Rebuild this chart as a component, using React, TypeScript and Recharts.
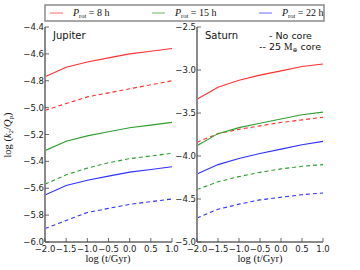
import { LineChart, Line, XAxis, YAxis } from "recharts";

const years = [-2, -1.5, -1, -0.5, 0, 0.5, 1];
const xTicks = [-2, -1.5, -1, -0.5, 0, 0.5, 1];

// Jupiter, log(k2/Qp)
const jupRed = [-4.77, -4.7, -4.66, -4.63, -4.6, -4.58, -4.56];
const jupRedCore = [-5.02, -4.97, -4.92, -4.89, -4.86, -4.83, -4.8];
const jupGreen = [-5.32, -5.25, -5.21, -5.18, -5.15, -5.13, -5.11];
const jupGreenCore = [-5.57, -5.5, -5.45, -5.41, -5.38, -5.36, -5.34];
const jupBlue = [-5.65, -5.58, -5.54, -5.51, -5.48, -5.46, -5.44];
const jupBlueCore = [-5.9, -5.84, -5.78, -5.75, -5.72, -5.7, -5.68];
const jupTicks = [-4.4, -4.6, -4.8, -5.0, -5.2, -5.4, -5.6, -5.8, -6.0];

// Saturn
const satRed = [-3.34, -3.2, -3.12, -3.06, -3.01, -2.96, -2.93];
const satRedCore = [-3.84, -3.74, -3.69, -3.65, -3.61, -3.58, -3.55];
const satGreen = [-3.88, -3.74, -3.67, -3.62, -3.57, -3.52, -3.49];
const satGreenCore = [-4.39, -4.3, -4.24, -4.19, -4.15, -4.12, -4.1];
const satBlue = [-4.21, -4.1, -4.03, -3.97, -3.92, -3.87, -3.83];
const satBlueCore = [-4.72, -4.62, -4.56, -4.51, -4.48, -4.45, -4.43];
const satTicks = [-2.5, -3.0, -3.5, -4.0, -4.5, -5.0];

const RED = "#ff3030";
const GREEN = "#2e9e2e";
const BLUE = "#3030ff";
const FRAME = "#8a8a8a";

const TOP = 27;
const BOTTOM = 242;
const tickFont = { fontFamily: "DejaVu Sans", fontSize: 8.5, fill: "#222" };

const fmt = (v: number, d: number) => {
  const s = Math.abs(v).toFixed(d);
  return v < 0 ? "\u2212" + s : s;
};

function makeRows(a: number[], b: number[], c: number[], d: number[], e: number[], f: number[]) {
  return years.map((t, i) => ({ t, r: a[i], rc: b[i], g: c[i], gc: d[i], b: e[i], bc: f[i] }));
}

const jupData = makeRows(jupRed, jupRedCore, jupGreen, jupGreenCore, jupBlue, jupBlueCore);
const satData = makeRows(satRed, satRedCore, satGreen, satGreenCore, satBlue, satBlueCore);

interface PanelProps {
  data: any[];
  domain: [number, number];
  yTicks: number[];
  plotLeft: number;
  plotRight: number;
  left: number;
  width: number;
  name: string;
}

function Panel({ data, domain, yTicks, plotLeft, plotRight, left, width, name }: PanelProps) {
  const pl = plotLeft - left;
  const pr = plotRight - left;
  const bottomTick = (p: any) => (
    <g>
      <line x1={p.x} x2={p.x} y1={BOTTOM} y2={BOTTOM - 4} stroke="#444" strokeWidth={0.8} />
      <text x={p.x} y={BOTTOM + 10} textAnchor="middle" {...tickFont}>
        {fmt(p.payload.value, 1)}
      </text>
    </g>
  );
  const topTick = (p: any) => (
    <line x1={p.x} x2={p.x} y1={TOP} y2={TOP + 4} stroke="#444" strokeWidth={0.8} />
  );
  const leftTick = (p: any) => (
    <g>
      <line x1={pl} x2={pl + 4} y1={p.y} y2={p.y} stroke="#444" strokeWidth={0.8} />
      <text x={pl - 1} y={p.y + 3} textAnchor="end" {...tickFont}>
        {fmt(p.payload.value, 1)}
      </text>
    </g>
  );
  const rightTick = (p: any) => (
    <line x1={pr} x2={pr - 4} y1={p.y} y2={p.y} stroke="#444" strokeWidth={0.8} />
  );
  const axisLine = { stroke: FRAME, strokeWidth: 2 };
  return (
    <div style={{ position: "absolute", left, top: 0 }}>
      <LineChart
        width={width}
        height={270}
        data={data}
        margin={{ top: TOP, right: width - pr, bottom: 0, left: 0 }}
      >
        <XAxis
          dataKey="t"
          type="number"
          domain={[-2, 1]}
          ticks={xTicks}
          height={270 - BOTTOM}
          axisLine={axisLine}
          tickLine={false}
          tick={bottomTick}
          interval={0}
        />
        <XAxis
          xAxisId="top"
          dataKey="t"
          type="number"
          orientation="top"
          domain={[-2, 1]}
          ticks={xTicks}
          height={0}
          axisLine={axisLine}
          tickLine={false}
          tick={topTick}
          interval={0}
        />
        <YAxis
          domain={domain}
          ticks={yTicks}
          width={pl}
          axisLine={axisLine}
          tickLine={false}
          tick={leftTick}
          interval={0}
        />
        <YAxis
          yAxisId="r"
          orientation="right"
          domain={domain}
          ticks={yTicks}
          width={0}
          axisLine={axisLine}
          tickLine={false}
          tick={rightTick}
          interval={0}
        />
        <Line dataKey="r" stroke={RED} strokeWidth={1.1} dot={false} isAnimationActive={false} />
        <Line dataKey="rc" stroke={RED} strokeWidth={1.1} strokeDasharray="4 3" dot={false} isAnimationActive={false} />
        <Line dataKey="g" stroke={GREEN} strokeWidth={1.1} dot={false} isAnimationActive={false} />
        <Line dataKey="gc" stroke={GREEN} strokeWidth={1.1} strokeDasharray="4 3" dot={false} isAnimationActive={false} />
        <Line dataKey="b" stroke={BLUE} strokeWidth={1.1} dot={false} isAnimationActive={false} />
        <Line dataKey="bc" stroke={BLUE} strokeWidth={1.1} strokeDasharray="4 3" dot={false} isAnimationActive={false} />
      </LineChart>
      <div
        style={{
          position: "absolute",
          left: pl + 8,
          top: 30,
          fontFamily: "DejaVu Sans",
          fontSize: 10,
          color: "#111",
        }}
      >
        {name}
      </div>
    </div>
  );
}

const serif = { fontFamily: "Liberation Serif", fill: "#111" };

function LegendItem({ x, color, label }: { x: number; color: string; label: string }) {
  return (
    <g>
      <line x1={x} x2={x + 13} y1={13} y2={13} stroke={color} strokeOpacity={0.6} strokeWidth={1.2} />
      <text x={x + 23} y={16} fontSize={10} {...serif}>
        <tspan fontStyle="italic">P</tspan>
        <tspan fontSize={6.5} dy={2}>rot</tspan>
        <tspan dy={-2}>{" = " + label + " h"}</tspan>
      </text>
    </g>
  );
}

export default function App() {
  return (
    <div style={{ position: "absolute", left: 0, top: 0, width: 360, height: 270, background: "#fff" }}>
      <Panel
        data={jupData}
        domain={[-6, -4.4]}
        yTicks={jupTicks}
        plotLeft={45}
        plotRight={172}
        left={0}
        width={180}
        name="Jupiter"
      />
      <Panel
        data={satData}
        domain={[-5, -2.5]}
        yTicks={satTicks}
        plotLeft={197}
        plotRight={323}
        left={172}
        width={160}
        name="Saturn"
      />
      <svg width={360} height={270} style={{ position: "absolute", left: 0, top: 0, pointerEvents: "none" }}>
        <rect x={45} y={5} width={279} height={16} fill="#fff" stroke={FRAME} strokeWidth={1.5} />
        <LegendItem x={50} color={RED} label="8" />
        <LegendItem x={152} color={GREEN} label="15" />
        <LegendItem x={259} color={BLUE} label="22" />
        <text x={269} y={39} fontFamily="DejaVu Sans" fontSize={9.5} fill="#111">
          - No core
        </text>
        <text x={259} y={50} fontSize={9.5} fill="#111">
          <tspan fontFamily="DejaVu Sans">-- 25 </tspan>
          <tspan {...serif}>M</tspan>
          <tspan fontSize={6} dy={2} fontFamily="DejaVu Sans">{"\u2295"}</tspan>
          <tspan dy={-2} fontFamily="DejaVu Sans">{" core"}</tspan>
        </text>
        <text x={108} y={262} textAnchor="middle" fontSize={10.5} {...serif}>
          log (t/Gyr)
        </text>
        <text x={260} y={262} textAnchor="middle" fontSize={10.5} {...serif}>
          log (t/Gyr)
        </text>
        <text transform="translate(11,135) rotate(-90)" textAnchor="middle" fontSize={10.5} {...serif}>
          <tspan>log (</tspan>
          <tspan fontStyle="italic">k</tspan>
          <tspan fontSize={7} dy={2}>2</tspan>
          <tspan dy={-2}>/</tspan>
          <tspan fontStyle="italic">Q</tspan>
          <tspan fontSize={7} dy={2}>p</tspan>
          <tspan dy={-2}>)</tspan>
        </text>
      </svg>
    </div>
  );
}
